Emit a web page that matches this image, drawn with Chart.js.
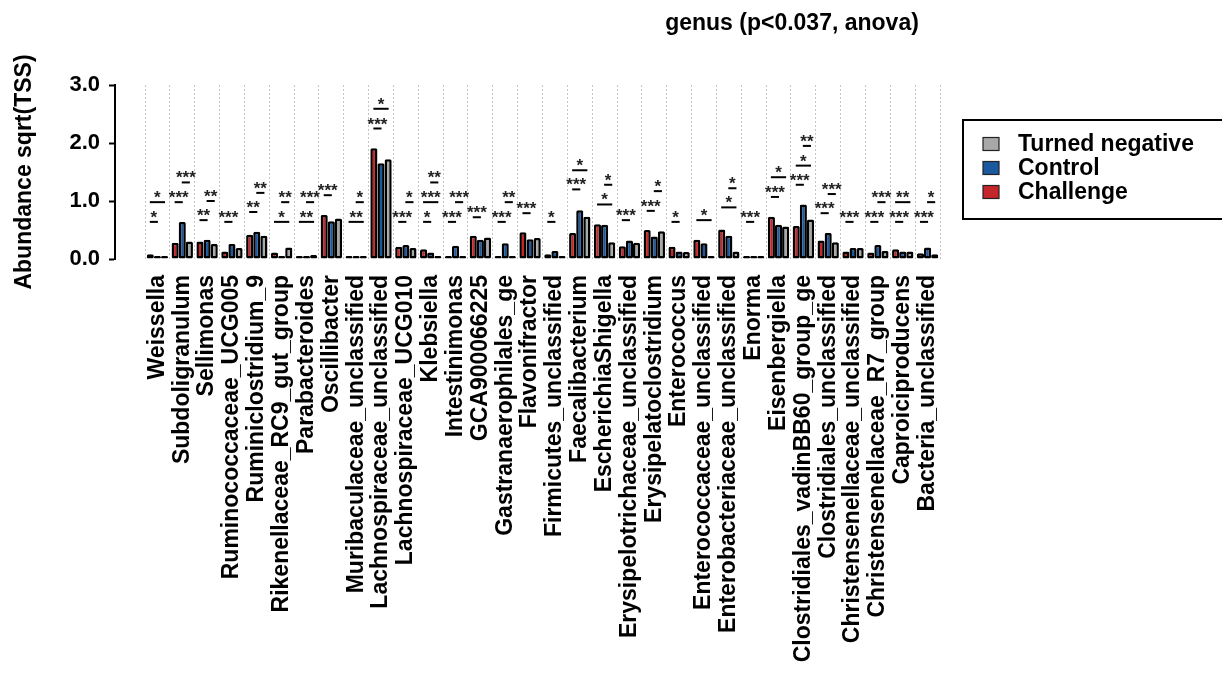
<!DOCTYPE html>
<html>
<head>
<meta charset="utf-8">
<script src="https://cdn.jsdelivr.net/npm/chart.js@4.4.0/dist/chart.umd.min.js"></script>
<style>
  body { margin: 0; background: #fff; }
</style>
</head>
<body>
<canvas id="genusChart" width="1222" height="674"></canvas>
<script>
const chartTitle = 'genus (p<0.037, anova)';

const genera = [
  'Weissella', 'Subdoligranulum', 'Sellimonas', 'Ruminococcaceae_UCG005',
  'Ruminiclostridium_9', 'Rikenellaceae_RC9_gut_group', 'Parabacteroides', 'Oscillibacter',
  'Muribaculaceae_unclassified', 'Lachnospiraceae_unclassified', 'Lachnospiraceae_UCG010', 'Klebsiella',
  'Intestinimonas', 'GCA900066225', 'Gastranaerophilales_ge', 'Flavonifractor',
  'Firmicutes_unclassified', 'Faecalibacterium', 'EscherichiaShigella', 'Erysipelotrichaceae_unclassified',
  'Erysipelatoclostridium', 'Enterococcus', 'Enterococcaceae_unclassified', 'Enterobacteriaceae_unclassified',
  'Enorma', 'Eisenbergiella', 'Clostridiales_vadinBB60_group_ge', 'Clostridiales_unclassified',
  'Christensenellaceae_unclassified', 'Christensenellaceae_R7_group', 'Caproiciproducens', 'Bacteria_unclassified'
];

const challenge = [
  0.08, 0.28, 0.30, 0.13, 0.42, 0.11, 0.01, 0.76,
  0.01, 1.91, 0.21, 0.17, 0.02, 0.40, 0.01, 0.46,
  0.08, 0.45, 0.60, 0.22, 0.50, 0.21, 0.33, 0.51,
  0.01, 0.73, 0.57, 0.32, 0.13, 0.11, 0.17, 0.10
];
const control = [
  0.04, 0.64, 0.33, 0.26, 0.47, 0.05, 0.01, 0.65,
  0.01, 1.65, 0.24, 0.11, 0.23, 0.33, 0.27, 0.34,
  0.14, 0.84, 0.59, 0.32, 0.39, 0.13, 0.27, 0.40,
  0.03, 0.59, 0.94, 0.45, 0.19, 0.24, 0.13, 0.20
];
const turnedNegative = [
  0.02, 0.30, 0.26, 0.19, 0.40, 0.20, 0.07, 0.70,
  0.04, 1.72, 0.19, 0.04, 0.03, 0.37, 0.03, 0.36,
  0.03, 0.73, 0.29, 0.28, 0.48, 0.12, 0.02, 0.13,
  0.01, 0.56, 0.68, 0.29, 0.19, 0.14, 0.13, 0.08
];

// [genus index, bar from, bar to, height, stars]  bars: 0 challenge, 1 control, 2 turned negative
const sigMarks = [
  [0, 0, 1, 0.64, '*'], [0, 0, 2, 0.98, '*'],
  [1, 0, 1, 0.98, '***'], [1, 1, 2, 1.32, '***'],
  [2, 0, 1, 0.67, '**'], [2, 1, 2, 1.00, '**'],
  [3, 0, 1, 0.64, '***'],
  [4, 0, 1, 0.81, '**'], [4, 1, 2, 1.14, '**'],
  [5, 0, 2, 0.64, '*'], [5, 1, 2, 0.98, '**'],
  [6, 0, 2, 0.64, '**'], [6, 1, 2, 0.98, '***'],
  [7, 0, 1, 1.10, '***'],
  [8, 0, 2, 0.64, '**'], [8, 1, 2, 0.98, '*'],
  [9, 0, 1, 2.25, '***'], [9, 0, 2, 2.59, '*'],
  [10, 0, 1, 0.64, '***'], [10, 1, 2, 0.98, '*'],
  [11, 0, 1, 0.64, '*'], [11, 0, 2, 0.98, '***'], [11, 1, 2, 1.32, '**'],
  [12, 0, 1, 0.64, '***'], [12, 1, 2, 0.98, '***'],
  [13, 0, 1, 0.72, '***'],
  [14, 0, 1, 0.64, '***'], [14, 1, 2, 0.98, '**'],
  [15, 0, 1, 0.79, '***'],
  [16, 0, 1, 0.64, '*'],
  [17, 0, 1, 1.20, '***'], [17, 0, 2, 1.53, '*'],
  [18, 0, 2, 0.94, '*'], [18, 1, 2, 1.28, '*'],
  [19, 0, 1, 0.67, '***'],
  [20, 0, 1, 0.83, '***'], [20, 1, 2, 1.17, '*'],
  [21, 0, 1, 0.64, '*'],
  [22, 0, 2, 0.67, '*'],
  [23, 0, 2, 0.89, '*'], [23, 1, 2, 1.22, '*'],
  [24, 0, 1, 0.64, '***'],
  [25, 0, 1, 1.07, '***'], [25, 0, 2, 1.41, '*'],
  [26, 0, 1, 1.28, '***'], [26, 0, 2, 1.61, '*'], [26, 1, 2, 1.95, '**'],
  [27, 0, 1, 0.79, '***'], [27, 1, 2, 1.12, '***'],
  [28, 0, 1, 0.64, '***'],
  [29, 0, 1, 0.64, '***'], [29, 1, 2, 0.98, '***'],
  [30, 0, 1, 0.64, '***'], [30, 0, 2, 0.98, '**'],
  [31, 0, 1, 0.64, '***'], [31, 1, 2, 0.98, '*']
];

const FONT = '"Liberation Sans", Arial, sans-serif';
Chart.defaults.font.family = FONT;
Chart.defaults.color = '#000';

// leave a gap between the y axis and the first group, like the original
const categoryGap = {
  id: 'categoryGap',
  afterLayout(chart) {
    const xs = chart.scales.x;
    xs.left = chart.chartArea.left + 30;
    xs.configure();
  }
};

const sigPlugin = {
  id: 'sigMarks',
  afterDatasetsDraw(chart) {
    const ctx = chart.ctx;
    const ys = chart.scales.y;
    ctx.save();
    ctx.strokeStyle = '#000';
    ctx.lineWidth = 2;
    ctx.fillStyle = '#222';
    ctx.font = 'bold 17px ' + FONT;
    ctx.textAlign = 'center';
    ctx.textBaseline = 'alphabetic';
    sigMarks.forEach(([cat, a, b, val, label]) => {
      const xa = chart.getDatasetMeta(a).data[cat].x;
      const xb = chart.getDatasetMeta(b).data[cat].x;
      const py = ys.getPixelForValue(val);
      ctx.beginPath();
      ctx.moveTo(xa - 0.5, py);
      ctx.lineTo(xb + 0.5, py);
      ctx.stroke();
      ctx.fillText(label, (xa + xb) / 2, py + 1);
    });
    ctx.restore();
  }
};

const sideBits = {
  id: 'sideBits',
  afterDraw(chart) {
    const ctx = chart.ctx;
    ctx.save();
    // title
    ctx.fillStyle = '#000';
    ctx.font = 'bold 23px ' + FONT;
    ctx.textAlign = 'center';
    ctx.textBaseline = 'middle';
    ctx.fillText(chartTitle, 792, 24);
    // legend
    ctx.lineWidth = 2;
    ctx.strokeStyle = '#000';
    ctx.strokeRect(963, 120, 290, 99);
    ctx.textAlign = 'left';
    const items = chart.data.datasets.slice().reverse();
    items.forEach((ds, i) => {
      const cy = 144 + i * 24;
      ctx.fillStyle = ds.backgroundColor;
      ctx.fillRect(983, cy - 6.5, 16, 13);
      ctx.lineWidth = 1.2;
      ctx.strokeStyle = '#222';
      ctx.strokeRect(983, cy - 6.5, 16, 13);
      ctx.fillStyle = '#000';
      ctx.fillText(ds.label, 1018, cy + 1);
    });
    ctx.restore();
  }
};

const barStyle = {
  borderColor: '#000',
  borderWidth: 2.5,
  borderSkipped: false,
  borderRadius: 1.5,
  barPercentage: 1.0,
  categoryPercentage: 0.86,
  minBarLength: 3
};

new Chart(document.getElementById('genusChart'), {
  type: 'bar',
  data: {
    labels: genera,
    datasets: [
      Object.assign({ label: 'Challenge', data: challenge, backgroundColor: 'rgb(196,38,42)' }, barStyle),
      Object.assign({ label: 'Control', data: control, backgroundColor: 'rgb(26,88,160)' }, barStyle),
      Object.assign({ label: 'Turned negative', data: turnedNegative, backgroundColor: 'rgb(168,168,168)' }, barStyle)
    ]
  },
  options: {
    responsive: false,
    devicePixelRatio: 1,
    animation: false,
    layout: { padding: { top: 85, right: 282, left: 0, bottom: 0 } },
    plugins: {
      legend: { display: false },
      tooltip: { enabled: false }
    },
    scales: {
      x: {
        offset: true,
        grid: { offset: true, color: '#c4c4c4', lineWidth: 1, drawTicks: false },
        border: { display: false, dash: [2, 2] },
        ticks: {
          autoSkip: false,
          minRotation: 90,
          maxRotation: 90,
          padding: 16,
          color: '#000',
          font: { size: 23, weight: 'bold' }
        },
        afterFit(scale) { scale.height = 415; }
      },
      y: {
        min: 0,
        max: 3,
        ticks: {
          stepSize: 0.5,
          padding: 9,
          color: '#000',
          font: { size: 22, weight: 'bold' },
          callback: v => v.toFixed(1)
        },
        grid: { drawOnChartArea: false, drawTicks: true, tickLength: 6, tickColor: '#000', tickWidth: 2 },
        border: { display: true, color: '#000', width: 2 },
        title: {
          display: true,
          text: 'Abundance sqrt(TSS)',
          color: '#000',
          font: { size: 23, weight: 'bold' },
          padding: { top: 11, bottom: 0 }
        },
        afterFit(scale) { scale.width = 115; }
      }
    }
  },
  plugins: [categoryGap, sigPlugin, sideBits]
});
</script>
</body>
</html>
